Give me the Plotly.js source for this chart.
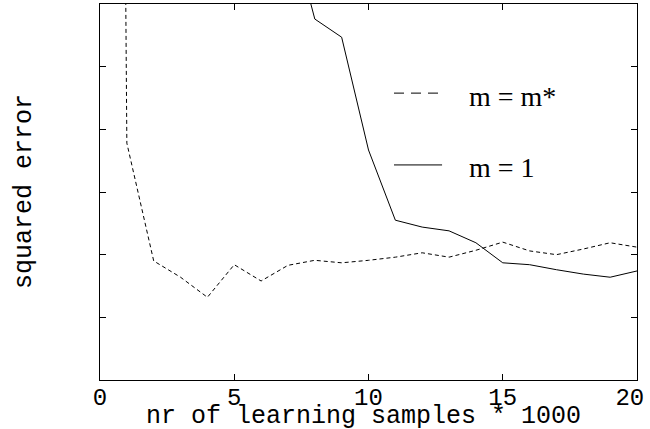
<!DOCTYPE html>
<html>
<head>
<meta charset="utf-8">
<script src="https://cdn.plot.ly/plotly-3.0.1.min.js"></script>
<style>html,body{margin:0;padding:0;background:#fff;}#chart{width:650px;height:429px;}</style>
</head>
<body>
<div id="chart"></div>
<script>
// Data
const xMstar = [0, 1, 2, 3, 4, 5, 6, 7, 8, 9, 10, 11, 12, 13, 14, 15, 16, 17, 18, 19, 20];
const yMstar = [60, 3.78, 1.90, 1.64, 1.32, 1.84, 1.58, 1.83, 1.91, 1.87, 1.91, 1.96, 2.03, 1.96, 2.07, 2.20, 2.06, 2.00, 2.09, 2.19, 2.12];
const xM1 = [7, 8, 9, 10, 11, 12, 13, 14, 15, 16, 17, 18, 19, 20];
const yM1 = [7.4, 5.76, 5.47, 3.67, 2.55, 2.44, 2.38, 2.19, 1.87, 1.84, 1.76, 1.69, 1.64, 1.74];
const xTicks = [0, 5, 10, 15, 20];
const xTickText = ["0", "5", "10", "15", "20\u00a0"];
const legendLabels = ["m = m*", "m = 1"];
const xTitle = "nr of learning samples * 1000";
const yTitle = "squared error";

const mono = "Liberation Mono, Courier New, monospace";
const serif = "Liberation Serif, Times New Roman, serif";

const traces = [
  {x: xMstar, y: yMstar, mode: "lines", line: {color: "#000", width: 1, dash: "4px,3px"}, showlegend: false, hoverinfo: "skip"},
  {x: xM1, y: yM1, mode: "lines", line: {color: "#000", width: 1}, showlegend: false, hoverinfo: "skip"}
];

const layout = {
  width: 650, height: 429,
  margin: {l: 100, r: 13, t: 4, b: 49},
  paper_bgcolor: "#fff", plot_bgcolor: "#fff",
  xaxis: {
    range: [0, 20], tickvals: xTicks, ticktext: xTickText,
    ticks: "inside", ticklen: 6, tickcolor: "#000", mirror: "ticks",
    showline: true, linecolor: "#000", linewidth: 1, showgrid: false, zeroline: false,
    tickfont: {family: mono, size: 24, color: "#000"}, ticklabelstandoff: -5,
    ticklabeloverflow: "allow"
  },
  yaxis: {
    range: [0, 6], dtick: 1, tick0: 0,
    ticks: "inside", ticklen: 6, tickcolor: "#000", mirror: "ticks",
    showline: true, linecolor: "#000", linewidth: 1, showgrid: false, zeroline: false,
    showticklabels: false
  },
  shapes: [
    {type: "line", xref: "paper", yref: "paper", x0: 0.5475, x1: 0.637, y0: 0.763, y1: 0.763, line: {color: "#000", width: 1, dash: "10px,7px"}},
    {type: "line", xref: "paper", yref: "paper", x0: 0.5475, x1: 0.637, y0: 0.572, y1: 0.572, line: {color: "#000", width: 1}}
  ],
  annotations: [
    {xref: "paper", yref: "paper", x: 0.6834, y: 0.755, xanchor: "left", yanchor: "middle", text: legendLabels[0], showarrow: false, font: {family: serif, size: 28, color: "#000"}},
    {xref: "paper", yref: "paper", x: 0.6834, y: 0.564, xanchor: "left", yanchor: "middle", text: legendLabels[1], showarrow: false, font: {family: serif, size: 28, color: "#000"}},
    {xref: "paper", yref: "paper", x: 0.4916, y: -0.0984, xanchor: "center", yanchor: "middle", text: xTitle, showarrow: false, font: {family: mono, size: 25, color: "#000"}},
    {xref: "paper", yref: "paper", x: -0.1415, y: 0.5, xanchor: "center", yanchor: "middle", textangle: -90, text: yTitle, showarrow: false, font: {family: mono, size: 25, color: "#000"}}
  ]
};

Plotly.newPlot("chart", traces, layout, {staticPlot: true, displayModeBar: false});
</script>
</body>
</html>
